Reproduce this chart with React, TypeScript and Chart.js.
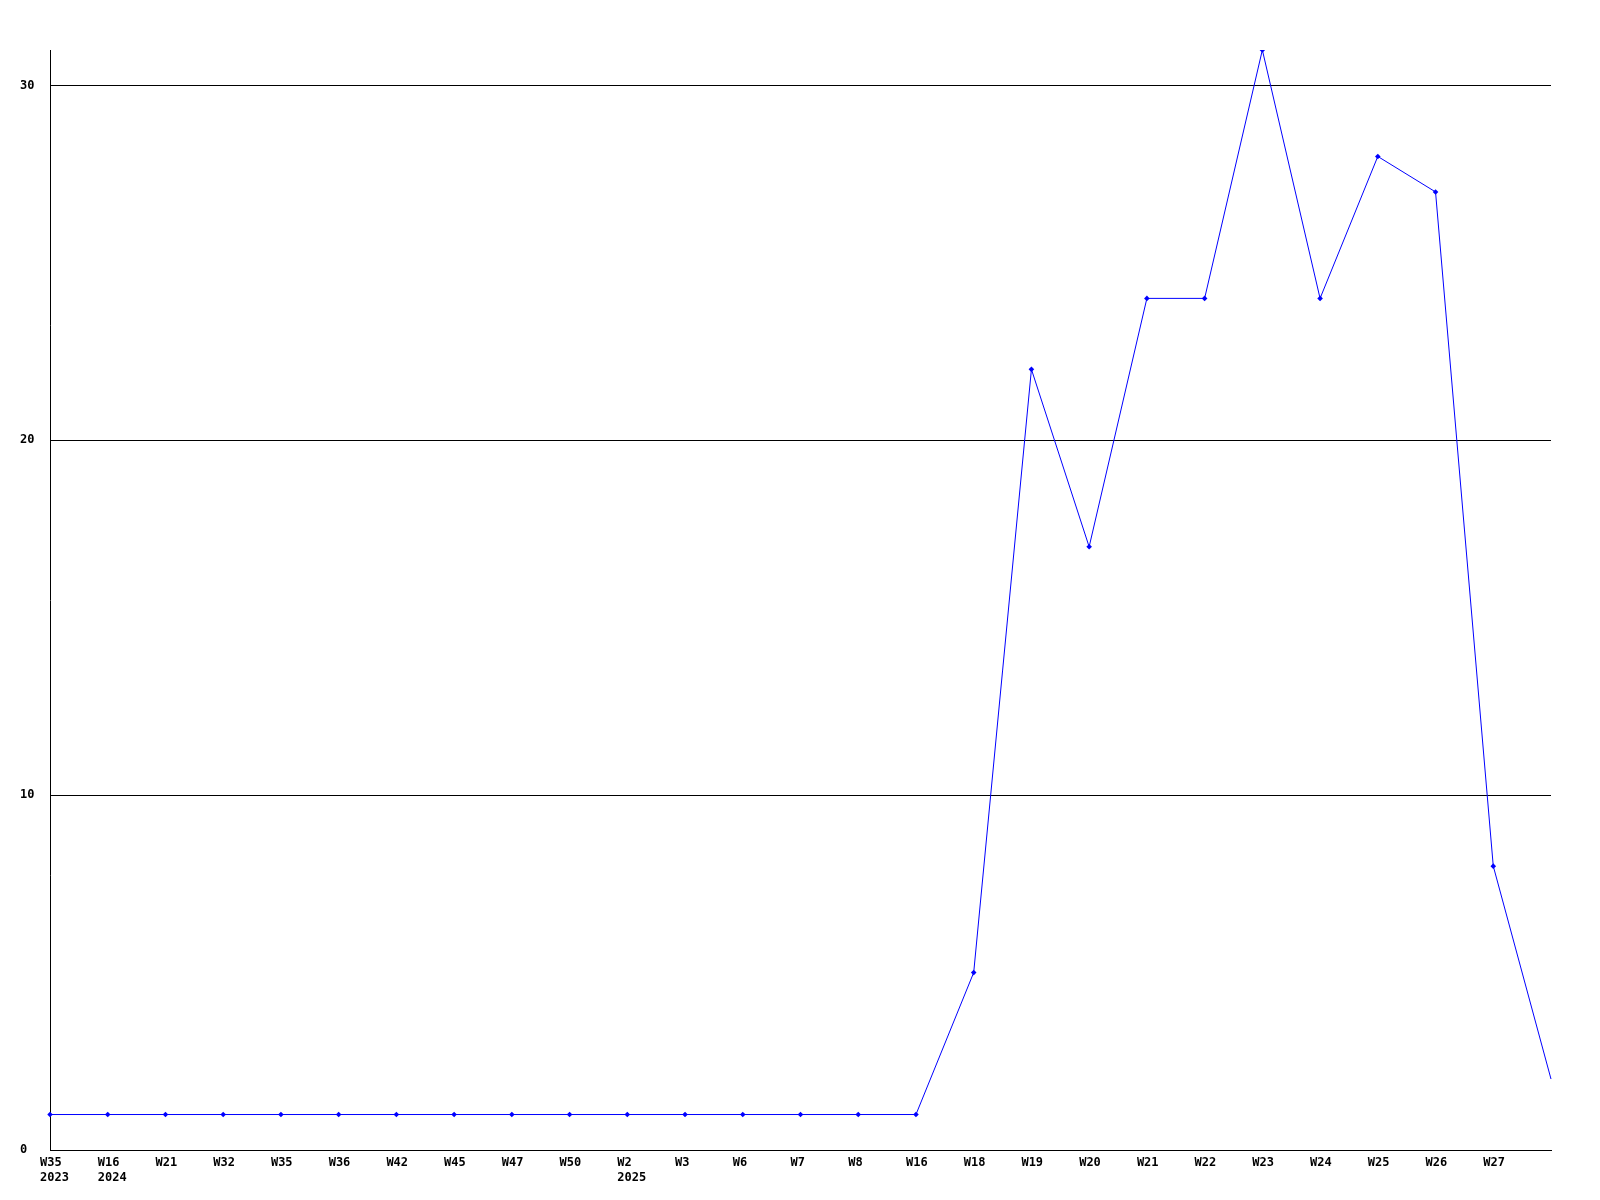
import React, { useEffect, useRef } from 'react';
import { Chart, registerables } from 'chart.js';

Chart.register(...registerables);

const weekLabels = ['W35', 'W16', 'W21', 'W32', 'W35', 'W36', 'W42', 'W45', 'W47', 'W50', 'W2', 'W3', 'W6', 'W7', 'W8', 'W16', 'W18', 'W19', 'W20', 'W21', 'W22', 'W23', 'W24', 'W25', 'W26', 'W27', ''];
const yearLabels = ['2023', '2024', '', '', '', '', '', '', '', '', '2025', '', '', '', '', '', '', '', '', '', '', '', '', '', '', '', ''];
const values = [1, 1, 1, 1, 1, 1, 1, 1, 1, 1, 1, 1, 1, 1, 1, 1, 5, 22, 17, 24, 24, 31, 24, 28, 27, 8, 2];
const yTicks = [0, 10, 20, 30];
const yMax = 31;

const FONT = { family: '"DejaVu Sans Mono", "Liberation Mono", monospace', size: 12, weight: 'bold' as const, lineHeight: 1.2 };

export default function App() {
  const ref = useRef<HTMLCanvasElement | null>(null);

  useEffect(() => {
    if (!ref.current) return;
    const labels = weekLabels.map((w, i) => (yearLabels[i] ? [w, yearLabels[i]] : w));
    const chart = new Chart(ref.current, {
      type: 'line',
      data: {
        labels,
        datasets: [
          {
            data: values,
            borderColor: '#0000ff',
            backgroundColor: '#0000ff',
            borderWidth: 1,
            tension: 0,
            fill: false,
            pointStyle: 'rectRot',
            pointRadius: values.map((_, i) => (i === values.length - 1 ? 0 : 2.8)),
            pointBorderWidth: 0,
            pointHoverRadius: 2.8,
          },
        ],
      },
      options: {
        animation: false,
        responsive: false,
        devicePixelRatio: 1,
        layout: { padding: { left: 20, right: 49, top: 50, bottom: 0 } },
        plugins: { legend: { display: false }, tooltip: { enabled: false } },
        scales: {
          x: {
            type: 'category',
            offset: false,
            grid: { display: false, drawTicks: false },
            border: { display: true, color: '#000000', width: 1 },
            ticks: {
              autoSkip: false,
              maxRotation: 0,
              minRotation: 0,
              align: 'start',
              labelOffset: -10,
              padding: 6,
              color: '#000000',
              font: FONT,
            },
            afterFit: (scale: any) => {
              scale.height = 50;
            },
          },
          y: {
            min: 0,
            max: yMax,
            grid: { color: '#000000', lineWidth: 1, drawTicks: false },
            border: { display: true, color: '#000000', width: 1 },
            ticks: {
              crossAlign: 'far',
              color: '#000000',
              font: FONT,
              padding: 0,
            },
            afterBuildTicks: (scale: any) => {
              scale.ticks = yTicks.map((v) => ({ value: v }));
            },
            afterFit: (scale: any) => {
              scale.width = 30;
            },
          },
        },
      },
    });
    return () => chart.destroy();
  }, []);

  return (
    <div style={{ position: 'absolute', left: 0, top: 0, width: 1600, height: 1200, background: '#ffffff' }}>
      <canvas ref={ref} width={1600} height={1200} style={{ width: 1600, height: 1200 }} />
    </div>
  );
}
